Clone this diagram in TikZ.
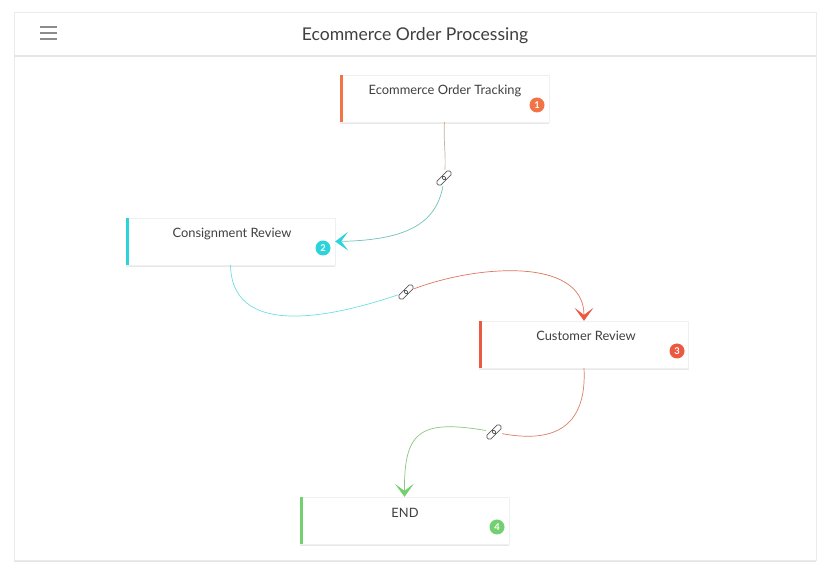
\documentclass[tikz,border=0pt]{standalone}
\usepackage{fontspec}
\setmainfont{Lato}
\usetikzlibrary{positioning,arrows.meta,shadows}
\definecolor{cOrange}{HTML}{F27446}
\definecolor{cCyan}{HTML}{2DD3DA}
\definecolor{cRed}{HTML}{EA5940}
\definecolor{cGreen}{HTML}{72D071}
\definecolor{cText}{HTML}{404040}
\definecolor{cLine}{HTML}{E4E6E8}
\definecolor{cTan}{HTML}{C9AE98}

\begin{document}
\begin{tikzpicture}[x=0.03cm,y=-0.03cm,
      stepbox/.style={rectangle,fill=white,draw=black!6,minimum width=6.27cm,minimum height=1.41cm,
        drop shadow={opacity=0.18,shadow xshift=0pt,shadow yshift=-1.5pt}},
      boxtext/.style={font=\fontsize{11}{13}\selectfont,text=cText},
      badge/.style={circle,inner sep=0pt,minimum size=0.45cm,text=white,font=\fontsize{8}{9}\selectfont\bfseries},
      link/.style={draw=black!65,line width=0.6pt,rounded corners=1.5pt},
      arr/.style={line width=0.6pt},
      tip/.style={-{Stealth[length=11pt,width=16pt,inset=6pt,color=#1]}}
      ]
      \useasboundingbox (0,0) rectangle (830,570);
      \fill[white] (0,0) rectangle (830,570);
      % card and header
      \node (card) [rectangle,fill=white,draw=black!8,minimum width=24.06cm,minimum height=16.44cm,
        drop shadow={opacity=0.2,shadow xshift=0pt,shadow yshift=-1.5pt}] at (415,286) {};
      \draw[cLine,line width=1pt] (14,56) -- (816,56);
      \node (title) [font=\fontsize{15}{18}\selectfont,text=cText] at (415,36) {Ecommerce Order Processing};
      \foreach \y in {27,33,39}
        \draw[black!45,line width=1.8pt] (40,\y) -- (57,\y);
      % steps
      \node (n1) [stepbox] at (444.5,98.5) {};
      \node (n2) [stepbox] at (230.5,241.5) {};
      \node (n3) [stepbox] at (584,344.5) {};
      \node (n4) [stepbox] at (404.5,520.5) {};
      \fill[cOrange] (n1.north west) rectangle ([xshift=0.09cm]n1.south west);
      \fill[cCyan] (n2.north west) rectangle ([xshift=0.09cm]n2.south west);
      \fill[cRed] (n3.north west) rectangle ([xshift=0.09cm]n3.south west);
      \fill[cGreen] (n4.north west) rectangle ([xshift=0.09cm]n4.south west);
      \node (t1) [boxtext] at (445,91) {Ecommerce Order Tracking};
      \node (t2) [boxtext] at (232,234) {Consignment Review};
      \node (t3) [boxtext] at (586,336) {Customer Review};
      \node (t4) [boxtext] at (405,513) {END};
      \node (b1) [badge,fill=cOrange] at (537,105) {1};
      \node (b2) [badge,fill=cCyan] at (323,248) {2};
      \node (b3) [badge,fill=cRed] at (677,351) {3};
      \node (b4) [badge,fill=cGreen] at (497,527) {4};
      % connectors
      \coordinate (l1) at (444,178);
      \coordinate (l2) at (406,292);
      \coordinate (l3) at (494,432);
      \draw[arr,cTan] (n1.south) .. controls (443,140) and (447,160) .. (l1);
      \draw[arr,cCyan!55!cTan,tip=cCyan] (l1) .. controls (440,222) and (410,240) .. (n2.east);
      \draw[arr,cCyan!70] (n2.south) .. controls (232,345) and (350,312) .. (l2);
      \draw[arr,cRed!65!cTan,tip=cRed] (l2) .. controls (470,265) and (584,255) .. (n3.north);
      \draw[arr,cRed!55!cTan] (n3.south) .. controls (588,445) and (530,440) .. (l3);
      \draw[arr,cGreen!70!cTan,tip=cGreen] (l3) .. controls (420,418) and (404,430) .. (n4.north);
      % link icons
      \foreach \p in {l1,l2,l3}{
        \fill[white] (\p) circle (0.25cm);
        \draw[link,rotate around={45:(\p)}] ([xshift=-0.27cm,yshift=-0.08cm]\p) rectangle ([xshift=0.04cm,yshift=0.08cm]\p);
        \draw[link,rotate around={45:(\p)}] ([xshift=-0.04cm,yshift=-0.08cm]\p) rectangle ([xshift=0.27cm,yshift=0.08cm]\p);
      }
    \end{tikzpicture}
\end{document}
